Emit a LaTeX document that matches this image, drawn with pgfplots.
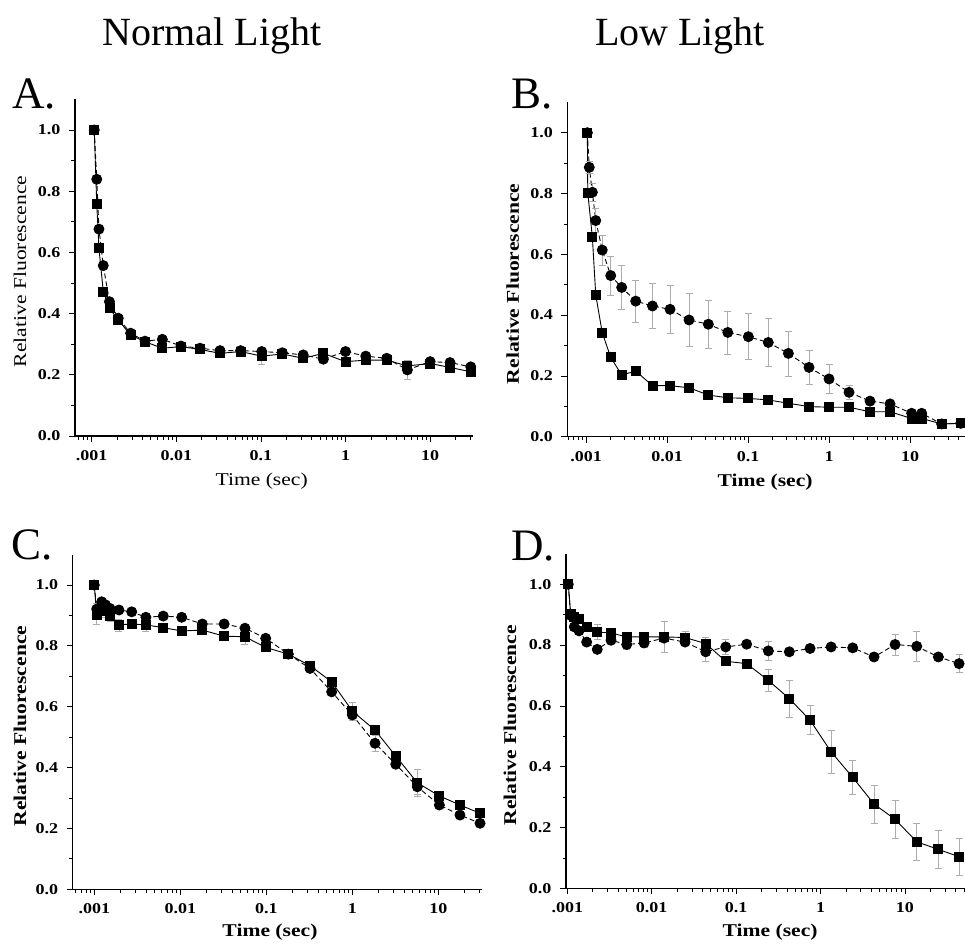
\documentclass[border=0pt]{standalone}
\usepackage{fontspec}
\setmainfont{Liberation Serif}[FakeStretch=1.2]
\newfontfamily\titlefont{Liberation Serif}
\usepackage{pgfplots}
\pgfplotsset{compat=1.18}

\pgfplotsset{
  panel/.style={
    scale only axis,
    axis x line*=bottom, axis y line*=left,
    ymin=0, ymax=1.1,
    ytick={0,0.2,0.4,0.6,0.8,1.0}, yticklabels={0.0,0.2,0.4,0.6,0.8,1.0},
    minor ytick={0.1,0.3,0.5,0.7,0.9},
    xtick={0.001,0.01,0.1,1,10}, xticklabels={.001,0.01,0.1,1,10},
    minor xtick={0.0006,0.0007,0.0008,0.0009,
      0.002,0.003,0.004,0.005,0.006,0.007,0.008,0.009,
      0.02,0.03,0.04,0.05,0.06,0.07,0.08,0.09,
      0.2,0.3,0.4,0.5,0.6,0.7,0.8,0.9,
      2,3,4,5,6,7,8,9,20,30,40,50,60,70,80,90},
    tick align=outside, major tick length=6pt, minor tick length=3.5pt,
    tick style={black, line width=0.8pt},
    axis line style={black, line width=1.1pt},
    ticklabel style={font=\fontsize{15}{17}\selectfont\bfseries},
    xticklabel style={yshift=-5pt},
    yticklabel style={xshift=-5pt},
    label style={font=\fontsize{18}{20}\selectfont},
    clip=false,
  },
  sq/.style={black, line width=0.9pt, mark=square*, mark size=4.5pt,
    mark options={solid, fill=black}},
  ci/.style={black, line width=0.9pt, dash pattern=on 5pt off 3pt,
    mark=*, mark size=5pt, mark options={solid, fill=black}},
  eb/.style={error bars/y dir=both, error bars/y explicit,
    error bars/error bar style={gray!65, line width=0.6pt, solid},
    error bars/error mark options={gray!65, line width=0.6pt, rotate=90, mark size=3.5pt, solid}},
}

\begin{document}
\begin{tikzpicture}
\useasboundingbox (0,0) rectangle (965pt,-945pt);

% headings and panel letters
\node[font=\titlefont\fontsize{40}{44}\selectfont, anchor=base] at (212pt,-45pt) {Normal Light};
\node[font=\titlefont\fontsize{40}{44}\selectfont, anchor=base] at (680pt,-45pt) {Low Light};
\node[font=\titlefont\fontsize{45}{48}\selectfont, anchor=base west, inner sep=0] at (12pt,-108pt) {A.};
\node[font=\titlefont\fontsize{45}{48}\selectfont, anchor=base west, inner sep=0] at (511pt,-108pt) {B.};
\node[font=\titlefont\fontsize{45}{48}\selectfont, anchor=base west, inner sep=0] at (11pt,-559pt) {C.};
\node[font=\titlefont\fontsize{45}{48}\selectfont, anchor=base west, inner sep=0] at (511pt,-560pt) {D.};

% A: normal light
\begin{axis}[xmode=log, panel, at={(75pt,-436pt)}, anchor=south west,
  width=398pt, height=336.6pt, xmin=0.000635, xmax=32.1,
  xlabel={Time (sec)}, ylabel={Relative Fluorescence},
  xlabel style={at={(axis description cs:0.469,-0.134)}, anchor=center},
  ylabel style={at={(axis description cs:-0.138,0.489)}, anchor=center}]
\addplot[sq, eb] coordinates {
 (0.001072,1.0) +- (0,0.01) (0.001148,0.758) +- (0,0.01) (0.001219,0.613) +- (0,0.01)
 (0.001371,0.472) +- (0,0.01) (0.001622,0.417) +- (0,0.01) (0.002061,0.379) +- (0,0.01)
 (0.002884,0.330) +- (0,0.01) (0.004266,0.308) +- (0,0.01) (0.006839,0.287) +- (0,0.01)
 (0.01138,0.292) +- (0,0.01) (0.01905,0.283) +- (0,0.01) (0.03289,0.270) +- (0,0.01)
 (0.05754,0.276) +- (0,0.01) (0.1023,0.261) +- (0,0.026) (0.1791,0.268) +- (0,0.01)
 (0.3162,0.254) +- (0,0.01) (0.5470,0.270) +- (0,0.01) (1,0.243) +- (0,0.01)
 (1.734,0.248) +- (0,0.01) (3.069,0.248) +- (0,0.01) (5.383,0.229) +- (0,0.01)
 (10,0.237) +- (0,0.01) (17.18,0.224) +- (0,0.01) (30.2,0.210) +- (0,0.01)};
\addplot[ci, eb] coordinates {
 (0.001072,1.0) +- (0,0.01) (0.001148,0.839) +- (0,0.01) (0.001219,0.676) +- (0,0.01)
 (0.001371,0.557) +- (0,0.01) (0.001622,0.439) +- (0,0.01) (0.002061,0.385) +- (0,0.01)
 (0.002884,0.336) +- (0,0.01) (0.004266,0.310) +- (0,0.01) (0.006839,0.316) +- (0,0.01)
 (0.01138,0.294) +- (0,0.01) (0.01905,0.287) +- (0,0.01) (0.03289,0.279) +- (0,0.01)
 (0.05754,0.279) +- (0,0.01) (0.1023,0.276) +- (0,0.01) (0.1791,0.272) +- (0,0.01)
 (0.3162,0.265) +- (0,0.01) (0.5470,0.251) +- (0,0.01) (1,0.276) +- (0,0.01)
 (1.734,0.261) +- (0,0.01) (3.069,0.254) +- (0,0.01) (5.383,0.216) +- (0,0.03)
 (10,0.243) +- (0,0.01) (17.18,0.240) +- (0,0.01) (30.2,0.226) +- (0,0.01)};
\end{axis}

% B: low light
\begin{axis}[xmode=log, panel, at={(567.3pt,-436.7pt)}, anchor=south west,
  width=415.6pt, height=334.4pt, xmin=0.000587, xmax=79.4,
  label style={font=\fontsize{18}{20}\selectfont\bfseries},
  xlabel={Time (sec)}, ylabel={Relative Fluorescence},
  xlabel style={at={(axis description cs:0.476,-0.135)}, anchor=center},
  ylabel style={at={(axis description cs:-0.131,0.457)}, anchor=center}]
\addplot[sq] coordinates {
 (0.001038,1.0) (0.00105,0.803) (0.001197,0.656) (0.001318,0.466) (0.001585,0.342)
 (0.002018,0.261) (0.002754,0.203) (0.004102,0.216) (0.006607,0.168) (0.01089,0.168)
 (0.01871,0.161) (0.03236,0.137) (0.05623,0.128) (0.1009,0.126) (0.1778,0.121)
 (0.3148,0.110) (0.5662,0.099) (1,0.097) (1.766,0.097) (3.206,0.082) (5.662,0.082)
 (10.47,0.060) (13.93,0.060) (24.55,0.042) (42.27,0.044)};
\addplot[ci, eb] coordinates {
 (0.001038,1.0) +- (0,0.01) (0.001096,0.886) +- (0,0.02) (0.001197,0.804) +- (0,0.03)
 (0.001318,0.711) +- (0,0.04) (0.001585,0.614) +- (0,0.05) (0.002018,0.530) +- (0,0.065)
 (0.002754,0.491) +- (0,0.073) (0.004102,0.446) +- (0,0.070) (0.006607,0.430) +- (0,0.073)
 (0.01089,0.419) +- (0,0.080) (0.01871,0.384) +- (0,0.088) (0.03236,0.370) +- (0,0.080)
 (0.05623,0.343) +- (0,0.071) (0.1009,0.329) +- (0,0.076) (0.1778,0.310) +- (0,0.078)
 (0.3148,0.274) +- (0,0.074) (0.5662,0.228) +- (0,0.055) (1,0.190) +- (0,0.048)
 (1.766,0.146) +- (0,0.024) (3.206,0.117) +- (0,0.010) (5.662,0.108) +- (0,0.010)
 (10.47,0.077) +- (0,0.01) (13.93,0.077) +- (0,0.01) (24.55,0.042) +- (0,0.01)
 (42.27,0.044) +- (0,0.01)};
\end{axis}

% C
\begin{axis}[xmode=log, panel, at={(72.7pt,-889.3pt)}, anchor=south west,
  width=409.3pt, height=334.7pt, xmin=0.000561, xmax=32.2,
  label style={font=\fontsize{18}{20}\selectfont\bfseries},
  xlabel={Time (sec)}, ylabel={Relative Fluorescence},
  xlabel style={at={(axis description cs:0.482,-0.128)}, anchor=center},
  ylabel style={at={(axis description cs:-0.129,0.488)}, anchor=center}]
\addplot[sq, eb] coordinates {
 (0.001,1.0) +- (0,0.01) (0.001067,0.901) +- (0,0.03) (0.001219,0.920) +- (0,0.02)
 (0.001349,0.915) +- (0,0.02) (0.001524,0.900) +- (0,0.02) (0.001936,0.869) +- (0,0.02)
 (0.002723,0.872) +- (0,0.015) (0.003981,0.869) +- (0,0.02) (0.006339,0.860) +- (0,0.01)
 (0.01038,0.849) +- (0,0.01) (0.01803,0.852) +- (0,0.01) (0.03236,0.832) +- (0,0.01)
 (0.05649,0.830) +- (0,0.025) (0.09840,0.795) +- (0,0.01) (0.1803,0.773) +- (0,0.01)
 (0.3221,0.735) +- (0,0.01) (0.5754,0.682) +- (0,0.01) (1,0.586) +- (0,0.03)
 (1.837,0.523) +- (0,0.01) (3.199,0.438) +- (0,0.01) (5.702,0.350) +- (0,0.045)
 (10.28,0.307) +- (0,0.01) (17.86,0.277) +- (0,0.01) (30.55,0.250) +- (0,0.01)};
\addplot[ci, eb] coordinates {
 (0.001,1.0) +- (0,0.01) (0.001067,0.921) +- (0,0.02) (0.001219,0.945) +- (0,0.01)
 (0.001349,0.935) +- (0,0.01) (0.001524,0.923) +- (0,0.01) (0.001936,0.918) +- (0,0.01)
 (0.002723,0.912) +- (0,0.01) (0.003981,0.894) +- (0,0.01) (0.006339,0.898) +- (0,0.01)
 (0.01038,0.894) +- (0,0.01) (0.01803,0.872) +- (0,0.01) (0.03236,0.872) +- (0,0.01)
 (0.05649,0.858) +- (0,0.01) (0.09840,0.825) +- (0,0.01) (0.1803,0.773) +- (0,0.01)
 (0.3221,0.726) +- (0,0.01) (0.5754,0.649) +- (0,0.01) (1,0.573) +- (0,0.01)
 (1.837,0.480) +- (0,0.025) (3.199,0.411) +- (0,0.01) (5.702,0.337) +- (0,0.025)
 (10.28,0.277) +- (0,0.01) (17.86,0.244) +- (0,0.01) (30.55,0.217) +- (0,0.01)};
\end{axis}

% D
\begin{axis}[xmode=log, panel, at={(566pt,-888.3pt)}, anchor=south west,
  width=414.9pt, height=334.4pt, xmin=0.000966, xmax=79.4,
  label style={font=\fontsize{18}{20}\selectfont\bfseries},
  xlabel={Time (sec)}, ylabel={Relative Fluorescence},
  xlabel style={at={(axis description cs:0.492,-0.131)}, anchor=center},
  ylabel style={at={(axis description cs:-0.135,0.488)}, anchor=center}]
\addplot[sq, eb] coordinates {
 (0.001028,1.0) +- (0,0.01) (0.001096,0.904) +- (0,0.01) (0.001211,0.893) +- (0,0.01)
 (0.001377,0.885) +- (0,0.01) (0.001698,0.860) +- (0,0.01) (0.002265,0.843) +- (0,0.025)
 (0.003296,0.840) +- (0,0.01) (0.005058,0.827) +- (0,0.01) (0.008128,0.827) +- (0,0.01)
 (0.01400,0.827) +- (0,0.05) (0.02483,0.825) +- (0,0.02) (0.04365,0.805) +- (0,0.02)
 (0.07534,0.747) +- (0,0.01) (0.1334,0.739) +- (0,0.01) (0.2410,0.684) +- (0,0.035)
 (0.4266,0.624) +- (0,0.061) (0.7516,0.553) +- (0,0.048) (1.334,0.449) +- (0,0.071)
 (2.404,0.365) +- (0,0.057) (4.305,0.277) +- (0,0.062) (7.638,0.227) +- (0,0.064)
 (13.80,0.153) +- (0,0.060) (24.89,0.128) +- (0,0.062) (43.75,0.104) +- (0,0.060)};
\addplot[ci, eb] coordinates {
 (0.001028,1.0) +- (0,0.01) (0.001096,0.898) +- (0,0.01) (0.001211,0.860) +- (0,0.01)
 (0.001377,0.847) +- (0,0.01) (0.001698,0.810) +- (0,0.01) (0.002265,0.786) +- (0,0.01)
 (0.003296,0.816) +- (0,0.01) (0.005058,0.802) +- (0,0.015) (0.008128,0.807) +- (0,0.015)
 (0.01400,0.823) +- (0,0.01) (0.02483,0.810) +- (0,0.01) (0.04365,0.778) +- (0,0.03)
 (0.07534,0.794) +- (0,0.025) (0.1334,0.803) +- (0,0.01) (0.2410,0.781) +- (0,0.03)
 (0.4266,0.778) +- (0,0.01) (0.7516,0.789) +- (0,0.01) (1.334,0.794) +- (0,0.01)
 (2.404,0.791) +- (0,0.01) (4.305,0.761) +- (0,0.01) (7.638,0.802) +- (0,0.035)
 (13.80,0.796) +- (0,0.050) (24.89,0.761) +- (0,0.01) (43.75,0.739) +- (0,0.030)};
\end{axis}
\end{tikzpicture}
\end{document}
